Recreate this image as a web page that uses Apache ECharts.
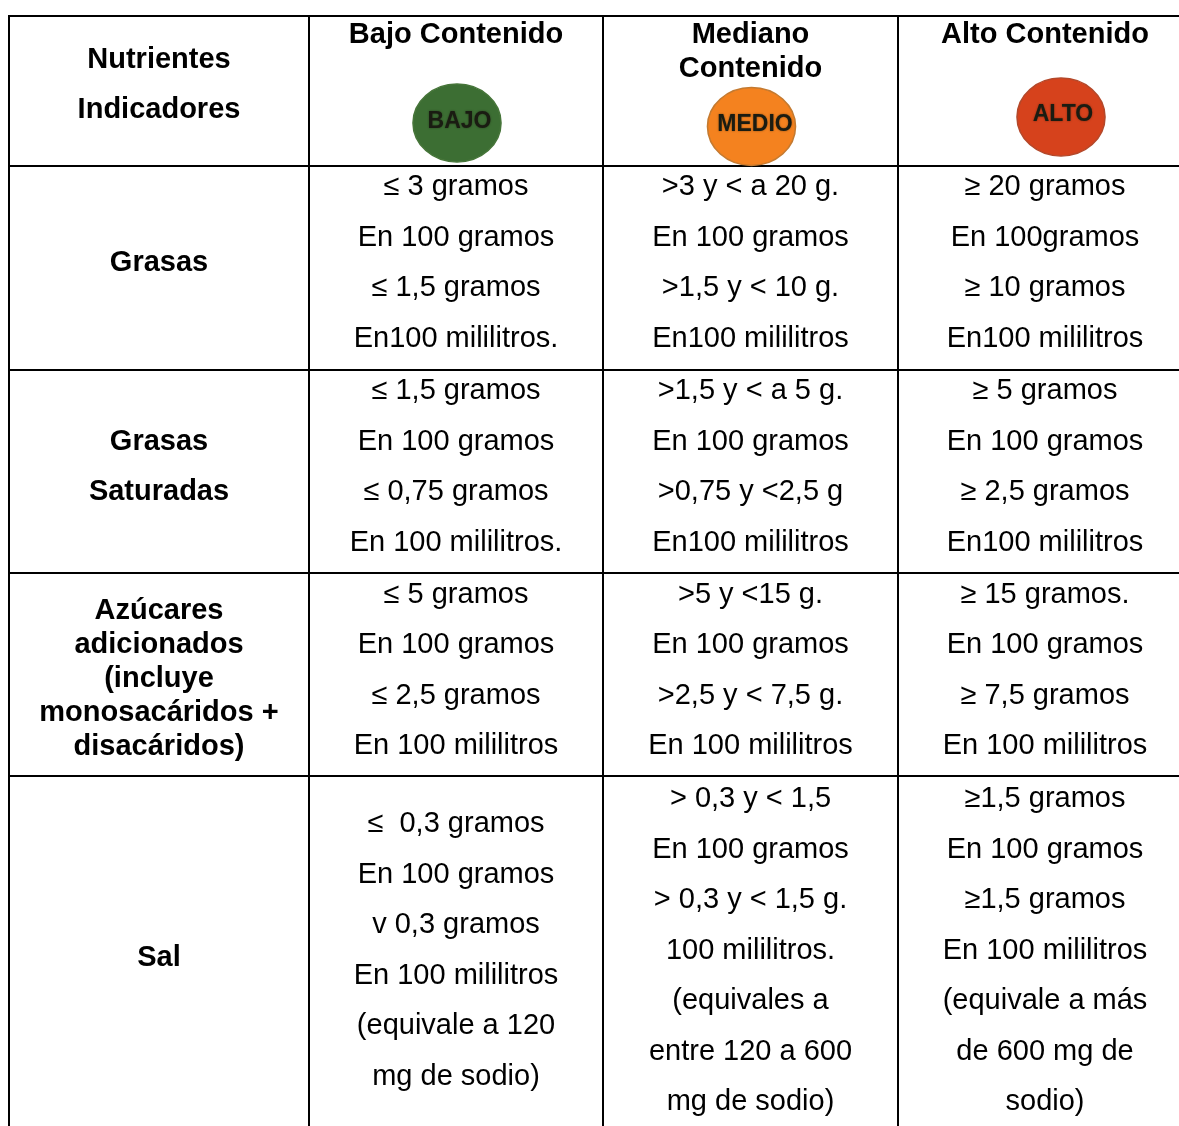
<!DOCTYPE html>
<html>
<head>
<meta charset="utf-8">
<style>html,body{margin:0;padding:0;background:#fff}#main{width:1179px;height:1126px}</style>
<script src="https://cdn.jsdelivr.net/npm/echarts@6/dist/echarts.min.js"></script>
</head>
<body>
<div id="main"></div>
<script>
var cornerText = 'Nutrientes\nIndicadores';
var levelNames = ['Bajo Contenido', 'Mediano\nContenido', 'Alto Contenido'];
var badgeLabels = ['BAJO', 'MEDIO', 'ALTO'];
var nutrients = ['Grasas', 'Grasas\nSaturadas', 'Azúcares\nadicionados\n(incluye\nmonosacáridos +\ndisacáridos)', 'Sal'];

var bajo = [
    '≤ 3 gramos\nEn 100 gramos\n≤ 1,5 gramos\nEn100 mililitros.',
    '≤ 1,5 gramos\nEn 100 gramos\n≤ 0,75 gramos\nEn 100 mililitros.',
    '≤ 5 gramos\nEn 100 gramos\n≤ 2,5 gramos\nEn 100 mililitros',
    '≤  0,3 gramos\nEn 100 gramos\nv 0,3 gramos\nEn 100 mililitros\n(equivale a 120\nmg de sodio)'
];
var mediano = [
    '>3 y < a 20 g.\nEn 100 gramos\n>1,5 y < 10 g.\nEn100 mililitros',
    '>1,5 y < a 5 g.\nEn 100 gramos\n>0,75 y <2,5 g\nEn100 mililitros',
    '>5 y <15 g.\nEn 100 gramos\n>2,5 y < 7,5 g.\nEn 100 mililitros',
    '> 0,3 y < 1,5\nEn 100 gramos\n> 0,3 y < 1,5 g.\n100 mililitros.\n(equivales a\nentre 120 a 600\nmg de sodio)'
];
var alto = [
    '≥ 20 gramos\nEn 100gramos\n≥ 10 gramos\nEn100 mililitros',
    '≥ 5 gramos\nEn 100 gramos\n≥ 2,5 gramos\nEn100 mililitros',
    '≥ 15 gramos.\nEn 100 gramos\n≥ 7,5 gramos\nEn 100 mililitros',
    '≥1,5 gramos\nEn 100 gramos\n≥1,5 gramos\nEn 100 mililitros\n(equivale a más\nde 600 mg de\nsodio)'
];

var columns = [bajo, mediano, alto];
var fontName = '"Liberation Sans", Arial, sans-serif';

// layout of the table
var colSizes = [294, 295, 294];
var rowSizes = [204, 203, 203, 359];
var bodyShift = [-5, -4.5, -4, -5];
var rowShift = [-5, -4.5, 4.5, 2.5];
var levelShift = [-56, -39, -56];
var badgeColors = ['#3c6e33', '#f4821f', '#d6421c'];
var badgeBorders = ['#467539', '#c47a30', '#b4482a'];
var badgeOffsets = [[1, 32], [1, 35.5], [16, 26]];
var badgeTextShift = [[2.5, -1], [3.5, -1.5], [2, -2]];

var cellLine = { color: 'transparent', borderColor: '#000', borderWidth: 2 };

// every text of the table, placed in its matrix cell
var texts = [];
function addText(c, r, text, shift, bold, lineHeight) {
    texts.push({
        value: [c, r],
        name: text,
        label: {
            offset: [0, shift],
            fontFamily: fontName,
            fontSize: 29,
            fontWeight: bold ? 'bold' : 'normal',
            color: '#000',
            lineHeight: lineHeight
        }
    });
}
addText(-1, -1, cornerText, -6, true, 50.5);
levelNames.forEach(function (name, i) {
    addText(i, -1, name, levelShift[i], true, 34);
});
nutrients.forEach(function (name, r) {
    addText(-1, r, name, rowShift[r], true, r == 2 ? 34 : 50.5);
});
columns.forEach(function (col, c) {
    col.forEach(function (text, r) {
        addText(c, r, text, bodyShift[r], false, 50.5);
    });
});

var badges = badgeLabels.map(function (name, i) {
    return {
        value: [i, -1],
        name: name,
        symbolOffset: badgeOffsets[i],
        itemStyle: { color: badgeColors[i], borderColor: badgeBorders[i], borderWidth: 1.5 },
        label: {
            offset: badgeTextShift[i],
            fontFamily: fontName,
            fontSize: 23,
            fontWeight: 'bold',
            color: '#1a1c12',
            textShadowColor: 'rgba(20,20,10,0.5)',
            textShadowBlur: 2
        }
    };
});

var chart = echarts.init(document.getElementById('main'));
chart.setOption({
    animation: false,
    backgroundColor: '#fff',
    matrix: {
        left: 9,
        top: 16,
        width: 1183,
        height: 1119,
        x: {
            levelSize: 150,
            itemStyle: cellLine,
            dividerLineStyle: { color: '#000', width: 2 },
            label: { show: false },
            data: levelNames.map(function (name, i) {
                return { value: name, size: colSizes[i] };
            })
        },
        y: {
            levelSize: 300,
            itemStyle: cellLine,
            dividerLineStyle: { color: '#000', width: 2 },
            label: { show: false },
            data: nutrients.map(function (name, i) {
                return { value: name, size: rowSizes[i] };
            })
        },
        corner: { itemStyle: cellLine },
        body: { itemStyle: cellLine },
        backgroundStyle: { color: 'transparent', borderColor: '#000', borderWidth: 2 }
    },
    series: [{
        type: 'scatter',
        coordinateSystem: 'matrix',
        symbol: 'circle',
        symbolSize: [88, 78],
        itemStyle: { opacity: 1 },
        data: badges,
        label: { show: true, position: 'inside', formatter: '{b}' }
    }, {
        type: 'scatter',
        coordinateSystem: 'matrix',
        symbolSize: 0,
        itemStyle: { opacity: 1 },
        data: texts,
        label: { show: true, position: 'inside', formatter: '{b}' }
    }]
});
</script>
</body>
</html>
